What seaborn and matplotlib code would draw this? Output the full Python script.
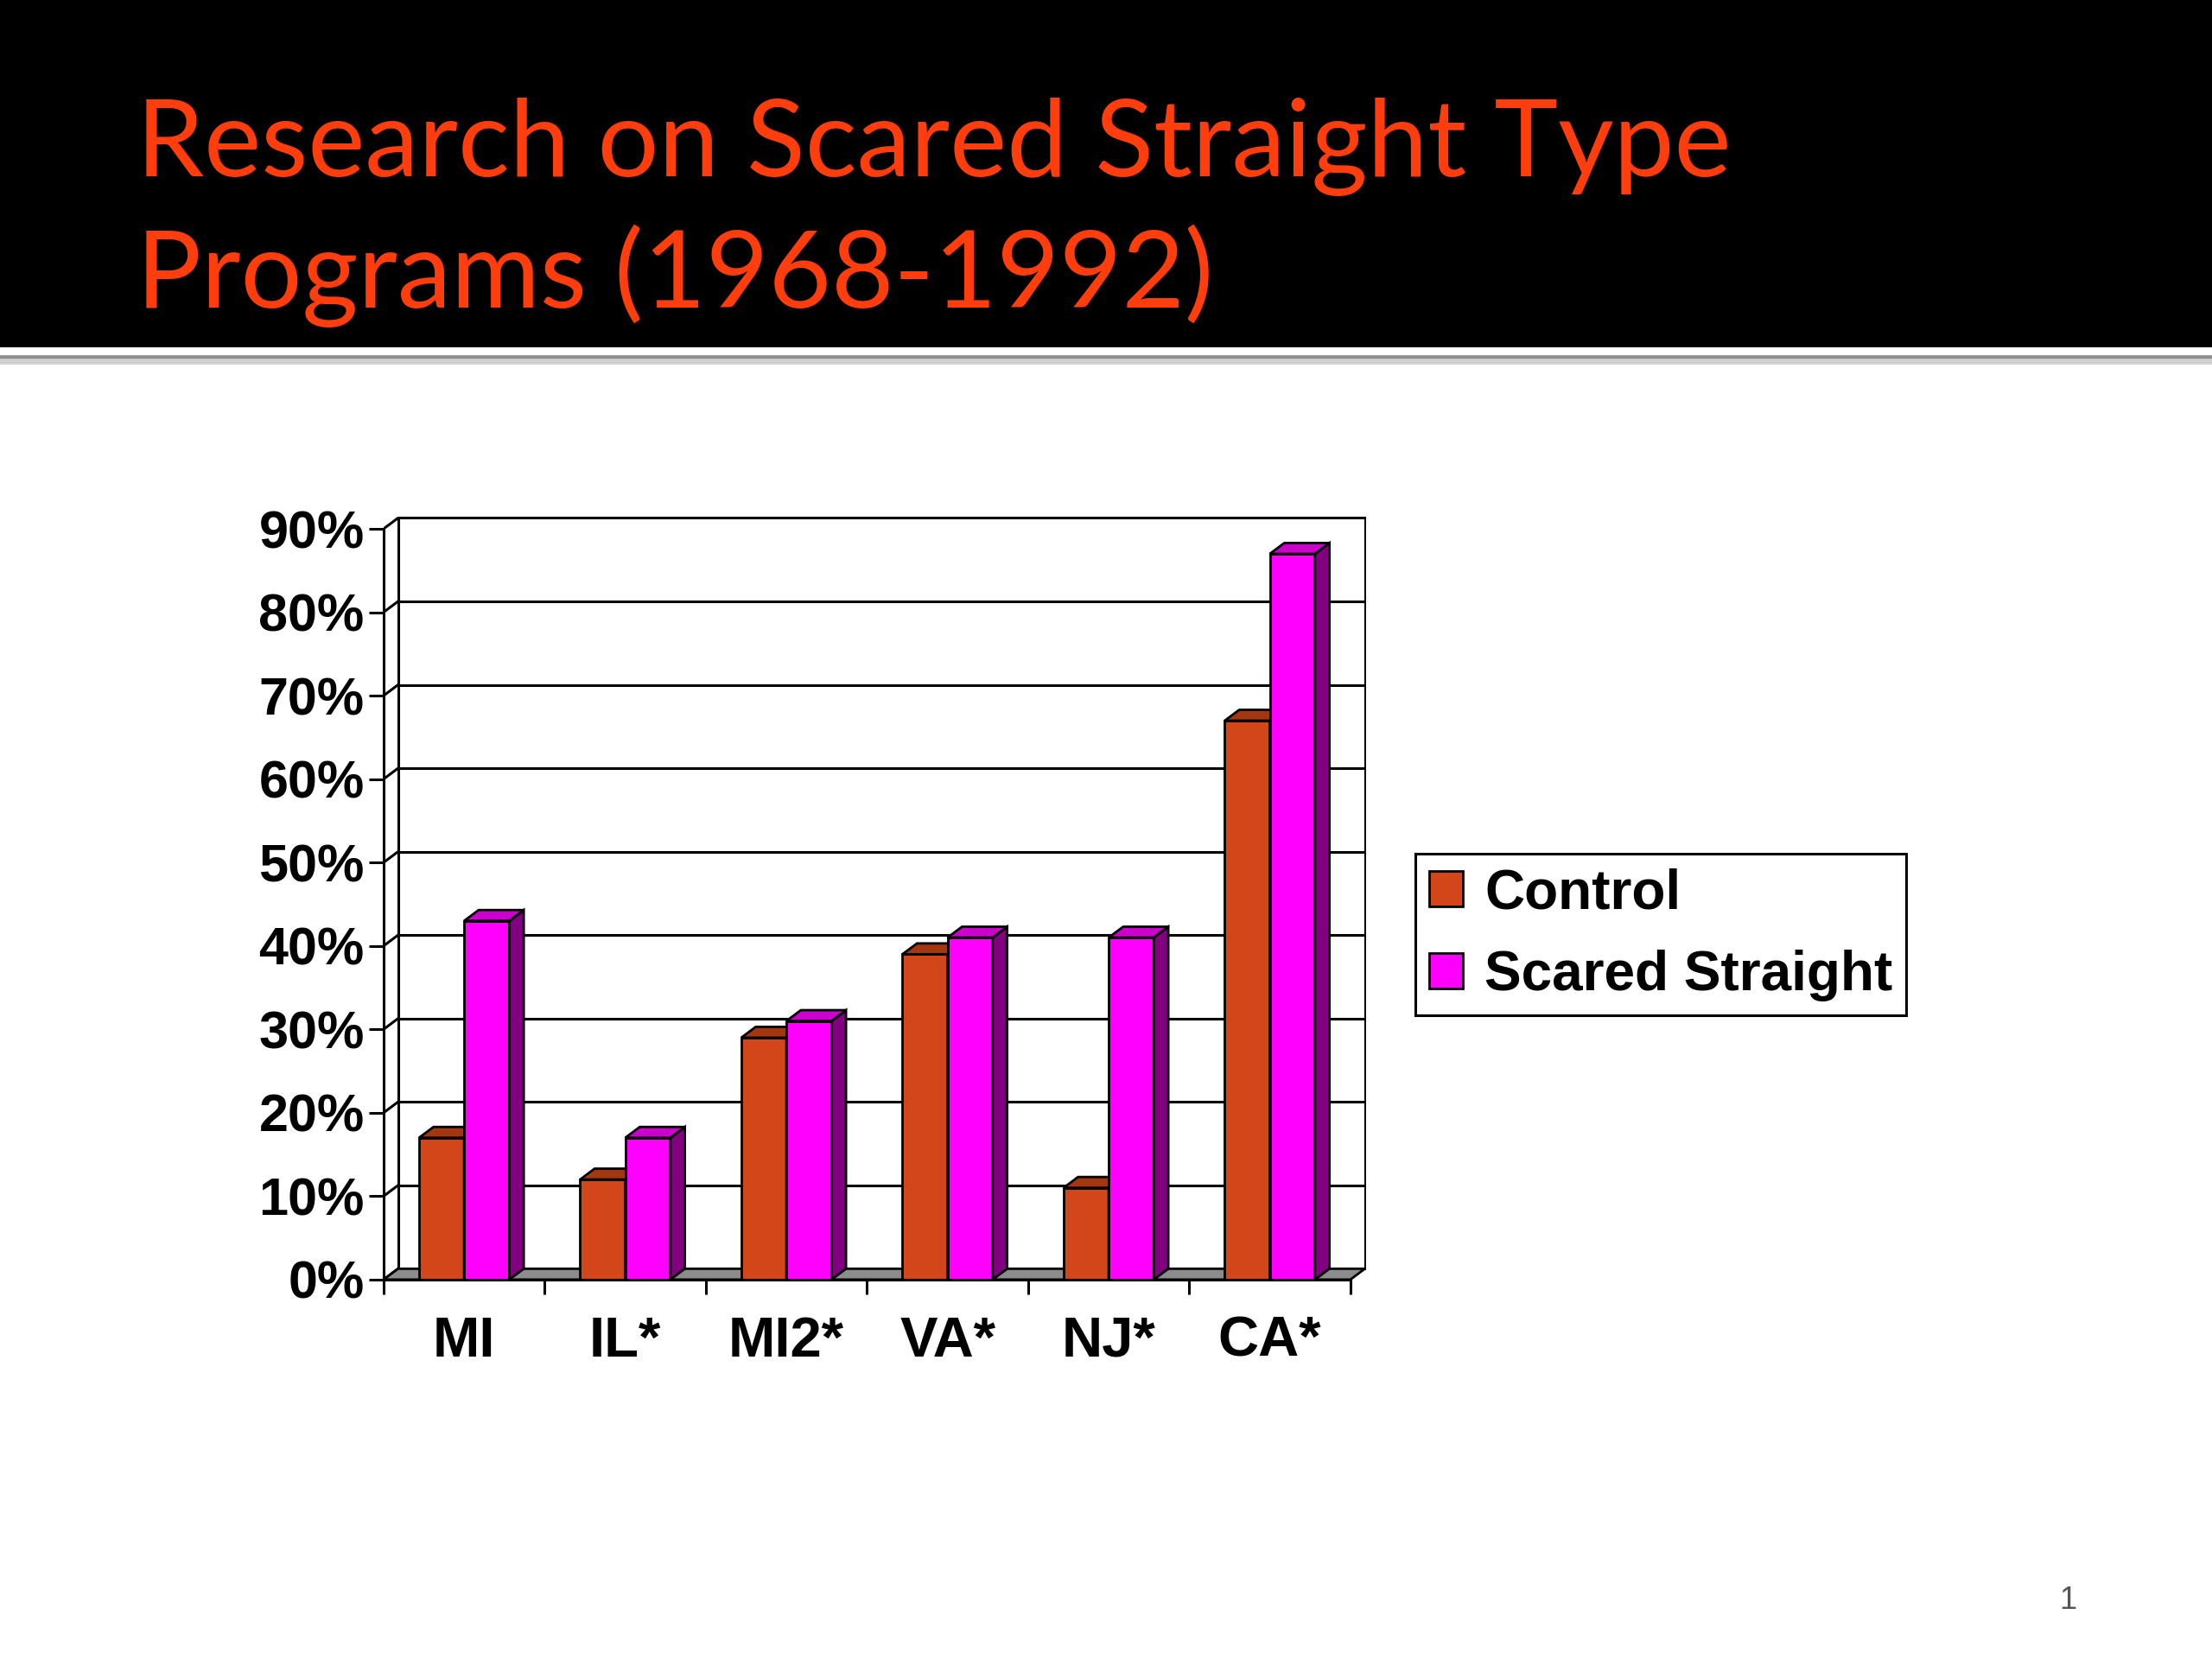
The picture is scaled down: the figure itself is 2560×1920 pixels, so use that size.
import numpy as np
import pandas as pd
import seaborn as sns
import matplotlib.pyplot as plt
from matplotlib.patches import Rectangle, Polygon
from matplotlib.ticker import PercentFormatter, FixedLocator

# Recidivism rates
states = ['MI', 'IL*', 'MI2*', 'VA*', 'NJ*', 'CA*']
control = [0.17, 0.12, 0.29, 0.39, 0.11, 0.67]
scared = [0.43, 0.17, 0.31, 0.41, 0.41, 0.87]
groups = ['Control', 'Scared Straight']
colors = ['#D2461A', '#FF00FF']
top_colors = ['#A3370F', '#CC00CC']
side_colors = ['#8A2E0C', '#800080']

df = pd.DataFrame({
    'state': states * 2,
    'group': [groups[0]] * len(states) + [groups[1]] * len(states),
    'rate': control + scared,
})

sns.set_theme(style='white')
plt.rcParams['font.family'] = ['Liberation Sans', 'DejaVu Sans']
plt.rcParams['text.color'] = 'black'
plt.rcParams['xtick.color'] = 'black'
plt.rcParams['ytick.color'] = 'black'

fig = plt.figure(figsize=(12.8, 9.6), dpi=200)

# slide header
fig.patches.append(Rectangle((0, 0.7917), 1, 0.2083, transform=fig.transFigure,
                             color='black', zorder=0))
fig.patches.append(Rectangle((0, 0.7832), 1, 0.0022, transform=fig.transFigure,
                             color='#8f8f8f', zorder=0))
fig.patches.append(Rectangle((0, 0.7815), 1, 0.0017, transform=fig.transFigure,
                             color='#d0d0d0', zorder=0))
title_kw = dict(color='#FF3D0D', fontsize=45, family=['Lato', 'DejaVu Sans'],
                va='baseline', ha='left')
fig.text(0.0617, 0.8938, 'Research on Scared Straight Type', **title_kw)
fig.text(0.0617, 0.8146, 'Programs (1968-1992)', **title_kw)
fig.text(0.935, 0.0349, '1', color='#555555', fontsize=13, ha='center', va='center')

ax = fig.add_axes([0.1734, 0.2287, 0.4440, 0.4626])
ax.set_facecolor('none')

dx, dy = 0.09, 0.013
n = len(states)

# floor
ax.add_patch(Polygon([(-0.5, 0), (n - 0.5, 0), (n - 0.5 + dx, dy), (-0.5 + dx, dy)],
                     closed=True, facecolor='#8c8c8c', edgecolor='black', lw=1, zorder=1))

sns.barplot(data=df, x='state', y='rate', hue='group', palette=colors, width=0.56,
            edgecolor='black', linewidth=1.0, saturation=1, ax=ax, zorder=2)

# back wall grid
yt = np.arange(0, 1.0, 0.1)
for v in yt:
    ax.plot([-0.5 + dx, n - 0.5 + dx], [v + dy, v + dy], color='black', lw=1.1, zorder=0.5)
    ax.plot([-0.5, -0.5 + dx], [v, v + dy], color='black', lw=1.1, zorder=0.5)
ax.plot([-0.5 + dx, -0.5 + dx], [dy, 0.9 + dy], color='black', lw=1.1, zorder=0.5)
ax.plot([n - 0.5 + dx, n - 0.5 + dx], [dy, 0.9 + dy], color='black', lw=1.1, zorder=0.5)

# pseudo 3D faces on each bar
bars = [p for p in ax.patches if isinstance(p, Rectangle)]
for p in bars:
    h = p.get_height()
    if h <= 0:
        continue
    x0 = p.get_x()
    x1 = x0 + p.get_width()
    k = 0 if p.get_facecolor()[2] < 0.5 else 1
    z = 2 + k
    p.set_zorder(z)
    ax.add_patch(Polygon([(x1, 0), (x1 + dx, dy), (x1 + dx, h + dy), (x1, h)], closed=True,
                         facecolor=side_colors[k], edgecolor='black', lw=1.0, zorder=z))
    ax.add_patch(Polygon([(x0, h), (x0 + dx, h + dy), (x1 + dx, h + dy), (x1, h)], closed=True,
                         facecolor=top_colors[k], edgecolor='black', lw=1.0, zorder=z))

ax.set_xlim(-0.5, n - 0.5 + dx + 0.005)
ax.set_ylim(0, 0.92)
ax.yaxis.set_major_locator(FixedLocator(yt))
ax.yaxis.set_major_formatter(PercentFormatter(1.0, decimals=0))
ax.xaxis.set_minor_locator(FixedLocator(np.arange(-0.5, n, 1.0)))

for s in ['top', 'right']:
    ax.spines[s].set_visible(False)
ax.spines['left'].set_bounds(0, 0.9)
ax.spines['bottom'].set_bounds(-0.5, n - 0.5)
for s in ['left', 'bottom']:
    ax.spines[s].set_color('black')
    ax.spines[s].set_linewidth(1.1)

ax.tick_params(axis='y', left=True, length=6, width=1.1, pad=2, labelsize=22,
               color='black', labelcolor='black')
ax.tick_params(axis='x', which='major', length=0, pad=15, labelsize=23.5, labelcolor='black')
ax.tick_params(axis='x', which='minor', bottom=True, length=6, width=1.1, color='black')
for lab in ax.get_xticklabels() + ax.get_yticklabels():
    lab.set_fontweight('bold')
ax.set_xlabel('')
ax.set_ylabel('')

leg = ax.legend(loc='upper left', bbox_to_anchor=(0.640, 0.4854), bbox_transform=fig.transFigure,
                frameon=True, fancybox=False, edgecolor='black', framealpha=1,
                prop={'weight': 'bold', 'size': 23}, handlelength=0.6, handleheight=0.6,
                handletextpad=0.4, borderpad=0.25, labelspacing=0.55, borderaxespad=0)
leg.get_frame().set_linewidth(1.1)
for t in leg.get_texts():
    t.set_color('black')

fig.savefig('out.png', dpi=200, facecolor='white')
